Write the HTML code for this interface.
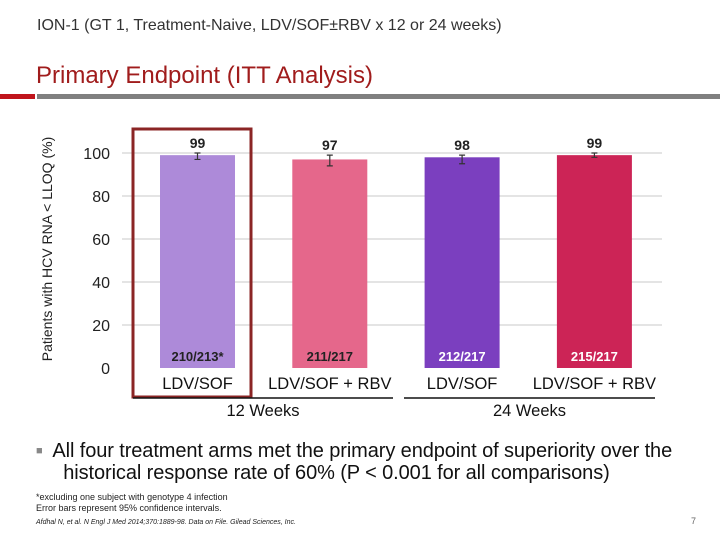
<!DOCTYPE html>
<html><head><meta charset="utf-8"><style>
body{margin:0;width:720px;height:540px;background:#fff;font-family:"Liberation Sans",sans-serif;position:relative;overflow:hidden}
.a{position:absolute;white-space:nowrap}
</style></head><body>
<div class="a" style="left:37px;top:17px;font-size:16px;color:#333">ION-1 (GT 1, Treatment-Naive, LDV/SOF±RBV x 12 or 24 weeks)</div>
<div class="a" style="left:36px;top:62px;font-size:24px;color:#a01c1c">Primary Endpoint (ITT Analysis)</div>
<div class="a" style="left:0;top:94px;width:35px;height:5px;background:#c0141c"></div>
<div class="a" style="left:37px;top:94px;width:683px;height:5px;background:#808080"></div>
<svg class="a" style="left:0;top:0" width="720" height="540">
<g id="g"></g>
</svg>
<div class="a" style="left:36px;top:440px;font-size:20px;letter-spacing:-0.1px;color:#111;line-height:22px"><span style="color:#888;font-size:11px;vertical-align:3px">■</span>&nbsp; All four treatment arms met the primary endpoint of superiority over the<br>&nbsp;&nbsp;&nbsp;&nbsp; historical response rate of 60% (P &lt; 0.001 for all comparisons)</div>
<div class="a" style="left:36px;top:492px;font-size:9px;line-height:11px;color:#222">*excluding one subject with genotype 4 infection<br>Error bars represent 95% confidence intervals.</div>
<div class="a" style="left:36px;top:519px;font-size:7px;color:#222;font-style:italic">Afdhal N, et al. N Engl J Med 2014;370:1889-98. Data on File. Gilead Sciences, Inc.</div>
<div class="a" style="left:691px;top:516px;font-size:9px;color:#666">7</div>
<script>
const categories=["LDV/SOF","LDV/SOF + RBV","LDV/SOF","LDV/SOF + RBV"];
const values=[99,97,98,99];
const errLo=[97,94,95,98];
const errHi=[100,99,99,100];
const fractions=["210/213*","211/217","212/217","215/217"];
const ticks=[0,20,40,60,80,100];
const colors=["#ad8ad9","#e5678b","#7b3fbf","#cc2456"];
const fracColors=["#222","#222","#fff","#fff"];
const ns="http://www.w3.org/2000/svg",g=document.getElementById('g');
const y=v=>368-v*2.15, bx=i=>160+i*132.3, bw=75;
function mk(t,a,txt){const e=document.createElementNS(ns,t);for(const k in a)e.setAttribute(k,a[k]);if(txt!=null)e.textContent=txt;g.appendChild(e);return e;}
ticks.forEach(t=>{
 if(t>0){const l=mk('line',{x1:122,x2:662,y1:y(t),y2:y(t),stroke:'#c8c8c8','stroke-width':1});
 
 }
 const tx=mk('text',{x:110,y:y(t)+6,'text-anchor':'end','font-size':16,fill:'#222'},t);
 
 
});
values.forEach((v,i)=>{
 const r=mk('rect',{x:bx(i),y:y(v),width:bw,height:y(0)-y(v),fill:colors[i]});
 
 
 const cx=bx(i)+bw/2;
 const e=mk('path',{d:`M${cx},${y(errHi[i])}V${y(errLo[i])}M${cx-3},${y(errHi[i])}H${cx+3}M${cx-3},${y(errLo[i])}H${cx+3}`,stroke:'#333','stroke-width':1.2,fill:'none'});
 
 
 const vl=mk('text',{x:cx,y:y(errHi[i])-5,'text-anchor':'middle','font-size':14,'font-weight':'bold',fill:'#222'},v);
 
 
 const f=mk('text',{x:cx,y:361,'text-anchor':'middle','font-size':13,'font-weight':'bold',fill:fracColors[i]},fractions[i]);
 
 
 const c=mk('text',{x:cx,y:389,'text-anchor':'middle','font-size':16.5,fill:'#111'},categories[i]);
 
 
});
const box=mk('rect',{x:133,y:129,width:118,height:268,fill:'none',stroke:'#8b2525','stroke-width':3});


[[133,393,'12 Weeks'],[404,655,'24 Weeks']].forEach((d,i)=>{
 const l=mk('line',{x1:d[0],x2:d[1],y1:398,y2:398,stroke:'#111','stroke-width':1.5});
 
 
 const t=mk('text',{x:(d[0]+d[1])/2,y:416,'text-anchor':'middle','font-size':16.5,fill:'#111'},d[2]);
 
 
});
const yt=mk('text',{transform:'translate(52,249) rotate(-90)','text-anchor':'middle','font-size':14,fill:'#222'},'Patients with HCV RNA < LLOQ (%)');


</script>
</body></html>
